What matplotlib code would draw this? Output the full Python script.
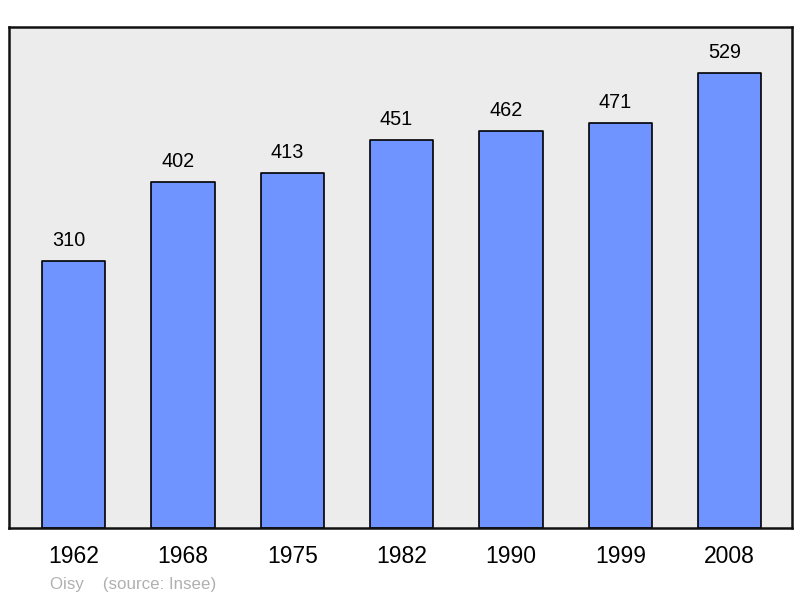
import matplotlib
matplotlib.use("Agg")
import matplotlib.pyplot as plt

years = ["1962", "1968", "1975", "1982", "1990", "1999", "2008"]
population = [310, 402, 413, 451, 462, 471, 529]

plt.rcParams['font.family'] = ['Liberation Sans', 'DejaVu Sans']

fig = plt.figure(figsize=(8, 5.98), dpi=100)
ax = fig.add_axes([9/800, 70/598, 783/800, 501/598])
ax.set_facecolor('#ececec')
x = list(range(len(years)))
bars = ax.bar(x, population, width=0.58, color='#7094ff', edgecolor='black',
              linewidth=1.2, joinstyle='round')
for xi, v in zip(x, population):
    ax.annotate(str(v), (xi, v), xytext=(-3.6, 8), textcoords='offset points',
                ha='center', va='bottom', fontsize=14.3)
ax.set_xlim(-0.59, 6.57)
ax.set_ylim(0, 582.5)
ax.set_yticks([])
ax.set_xticks(x)
ax.set_xticklabels(years, fontsize=16.5)
ax.tick_params(axis='x', length=0, pad=12)
for s in ax.spines.values():
    s.set_linewidth(1.8)
    s.set_color('#111111')
fig.text(50/800, 1 - 584/598, "Oisy    (source: Insee)", color='#b0b0b0',
         fontsize=12.2, va='center', ha='left')
fig.savefig("out.png", dpi=100)
